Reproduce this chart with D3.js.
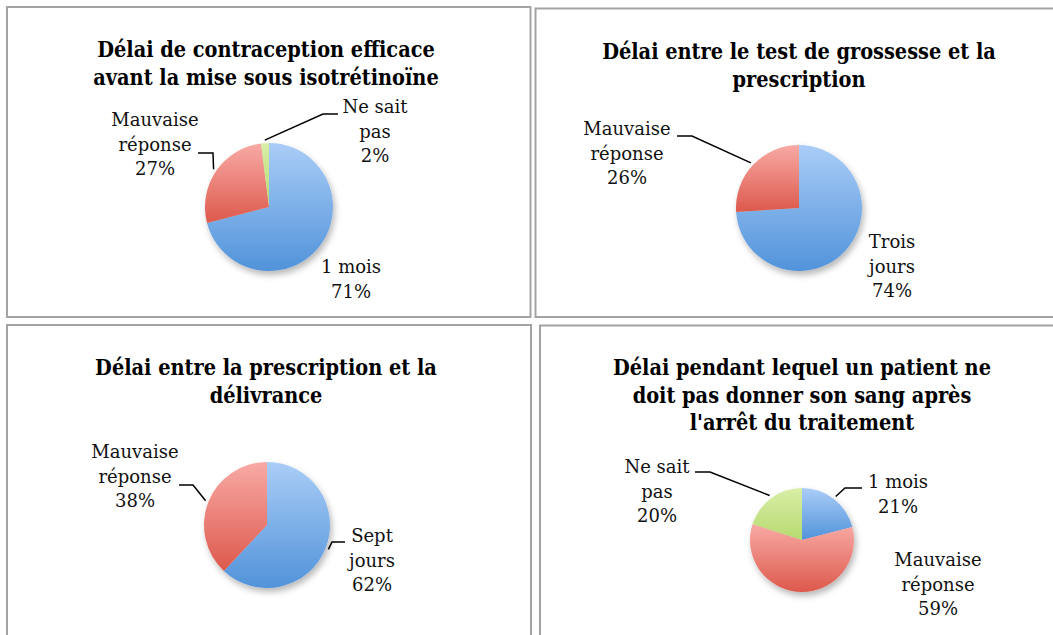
<!DOCTYPE html>
<html lang="fr">
<head>
<meta charset="utf-8">
<script src="https://cdn.jsdelivr.net/npm/d3@7"></script>
<style>
  html, body { margin: 0; padding: 0; background: #ffffff; }
  svg { display: block; }
</style>
</head>
<body>
<svg id="chart" width="1053" height="635"></svg>
<script>
// ---- Data ----------------------------------------------------------------
const titles1 = ["Délai de contraception efficace", "avant la mise sous isotrétinoïne"];
const categories1 = ["1 mois", "Mauvaise réponse", "Ne sait pas"];
const values1 = [71, 27, 2];

const titles2 = ["Délai entre le test de grossesse et la", "prescription"];
const categories2 = ["Trois jours", "Mauvaise réponse"];
const values2 = [74, 26];

const titles3 = ["Délai entre la prescription et la", "délivrance"];
const categories3 = ["Sept jours", "Mauvaise réponse"];
const values3 = [62, 38];

const titles4 = ["Délai pendant lequel un patient ne", "doit pas donner son sang après", "l'arrêt du traitement"];
const categories4 = ["1 mois", "Mauvaise réponse", "Ne sait pas"];
const values4 = [21, 59, 20];

// How each category name wraps inside its data label
const labelLines = {
  "1 mois": ["1 mois"],
  "Mauvaise réponse": ["Mauvaise", "réponse"],
  "Ne sait pas": ["Ne sait", "pas"],
  "Trois jours": ["Trois", "jours"],
  "Sept jours": ["Sept", "jours"]
};

// Fill colours (top → bottom of each slice)
const colorScale = d3.scaleOrdinal()
  .domain(["blue", "red", "green"])
  .range([["#aacdf7", "#5193da"], ["#f8aaa5", "#dd594c"], ["#d8eea6", "#b7da70"]]);
const categoryColor = {
  "1 mois": "blue", "Trois jours": "blue", "Sept jours": "blue",
  "Mauvaise réponse": "red", "Ne sait pas": "green"
};

// ---- Layout --------------------------------------------------------------
const panels = [
  { frame: [7, 7, 523.5, 310], cx: 269, cy: 207, r: 64, titleX: 266, titleY: 57,
    titles: titles1, cats: categories1, vals: values1,
    labels: {
      "1 mois": { x: 82, y: 66 },
      "Mauvaise réponse": { x: -114, y: -81, lead: [-71, -54, -56] },
      "Ne sait pas": { x: 106, y: -94, lead: [69, -93, 54] }
    } },
  { frame: [535.5, 8.5, 540, 308.5], cx: 799, cy: 208, r: 63, titleX: 799, titleY: 59,
    titles: titles2, cats: categories2, vals: values2,
    labels: {
      "Trois jours": { x: 93, y: 40 },
      "Mauvaise réponse": { x: -172, y: -73, lead: [-122, -72, -107] }
    } },
  { frame: [7, 325, 524, 330], cx: 267, cy: 525, r: 63, titleX: 266, titleY: 375,
    titles: titles3, cats: categories3, vals: values3,
    labels: {
      "Sept jours": { x: 105, y: 17, lead: [78, 17, 65] },
      "Mauvaise réponse": { x: -132, y: -67, lead: [-88, -40, -74] }
    } },
  { frame: [540, 325.5, 540, 330], cx: 802, cy: 540, r: 52, titleX: 802, titleY: 375,
    titles: titles4, cats: categories4, vals: values4,
    labels: {
      "1 mois": { x: 96, y: -52, lead: [60, -52, 43] },
      "Mauvaise réponse": { x: 136, y: 26 },
      "Ne sait pas": { x: -145, y: -67, lead: [-107, -68, -92] }
    } }
];

const svg = d3.select("#chart");
const defs = svg.append("defs");

// Soft shadow under each pie
const shadow = defs.append("filter").attr("id", "pieShadow")
  .attr("x", "-20%").attr("y", "-20%").attr("width", "150%").attr("height", "150%");
shadow.append("feDropShadow").attr("dx", 2).attr("dy", 4)
  .attr("stdDeviation", 3).attr("flood-color", "#000").attr("flood-opacity", 0.28);

// Vertical gradients, one per colour
colorScale.domain().forEach(key => {
  const [top, bottom] = colorScale(key);
  const g = defs.append("linearGradient").attr("id", "grad-" + key)
    .attr("x1", 0).attr("y1", 0).attr("x2", 0).attr("y2", 1);
  g.append("stop").attr("offset", "0%").attr("stop-color", top);
  g.append("stop").attr("offset", "100%").attr("stop-color", bottom);
});

const titleFont = "'DejaVu Serif Condensed', 'DejaVu Serif', serif";
const labelFont = "'DejaVu Serif', serif";
const pct = d3.format(".0%");

panels.forEach(p => {
  // Chart frame
  svg.append("rect")
    .attr("x", p.frame[0]).attr("y", p.frame[1])
    .attr("width", p.frame[2]).attr("height", p.frame[3])
    .attr("fill", "none").attr("stroke", "#a3a3a3").attr("stroke-width", 2);

  // Title
  svg.append("text")
    .attr("x", p.titleX).attr("y", p.titleY)
    .attr("text-anchor", "middle")
    .attr("font-family", titleFont).attr("font-weight", "bold")
    .attr("font-size", 21.5).attr("fill", "#000")
    .selectAll("tspan").data(p.titles).join("tspan")
    .attr("x", p.titleX).attr("dy", (d, i) => i === 0 ? 0 : 27.5)
    .text(d => d);

  // Pie
  const data = p.cats.map((c, i) => ({ cat: c, value: p.vals[i] }));
  const total = d3.sum(data, d => d.value);
  const arcs = d3.pie().sort(null).value(d => d.value)(data);
  const arc = d3.arc().innerRadius(0).outerRadius(p.r);
  const g = svg.append("g").attr("transform", `translate(${p.cx},${p.cy})`);
  g.append("g").attr("filter", "url(#pieShadow)")
    .selectAll("path").data(arcs).join("path")
    .attr("d", arc)
    .attr("fill", d => `url(#grad-${categoryColor[d.data.cat]})`);

  // Data labels and leader lines
  arcs.forEach(a => {
    const L = p.labels[a.data.cat];
    const lines = labelLines[a.data.cat].concat([pct(a.data.value / total)]);
    g.append("text")
      .attr("x", L.x).attr("y", L.y)
      .attr("text-anchor", "middle")
      .attr("font-family", labelFont).attr("font-size", 18).attr("fill", "#111")
      .selectAll("tspan").data(lines).join("tspan")
      .attr("x", L.x).attr("dy", (d, i) => i === 0 ? 0 : 24.5)
      .text(d => d);
    if (L.lead) {
      const mid = (a.startAngle + a.endAngle) / 2;
      const er = p.r + 3;
      const ex = Math.sin(mid) * er, ey = -Math.cos(mid) * er;
      g.append("path")
        .attr("d", d3.line()([[L.lead[0], L.lead[1]], [L.lead[2], L.lead[1]], [ex, ey]]))
        .attr("fill", "none").attr("stroke", "#000").attr("stroke-width", 1.5);
    }
  });
});
</script>
</body>
</html>
